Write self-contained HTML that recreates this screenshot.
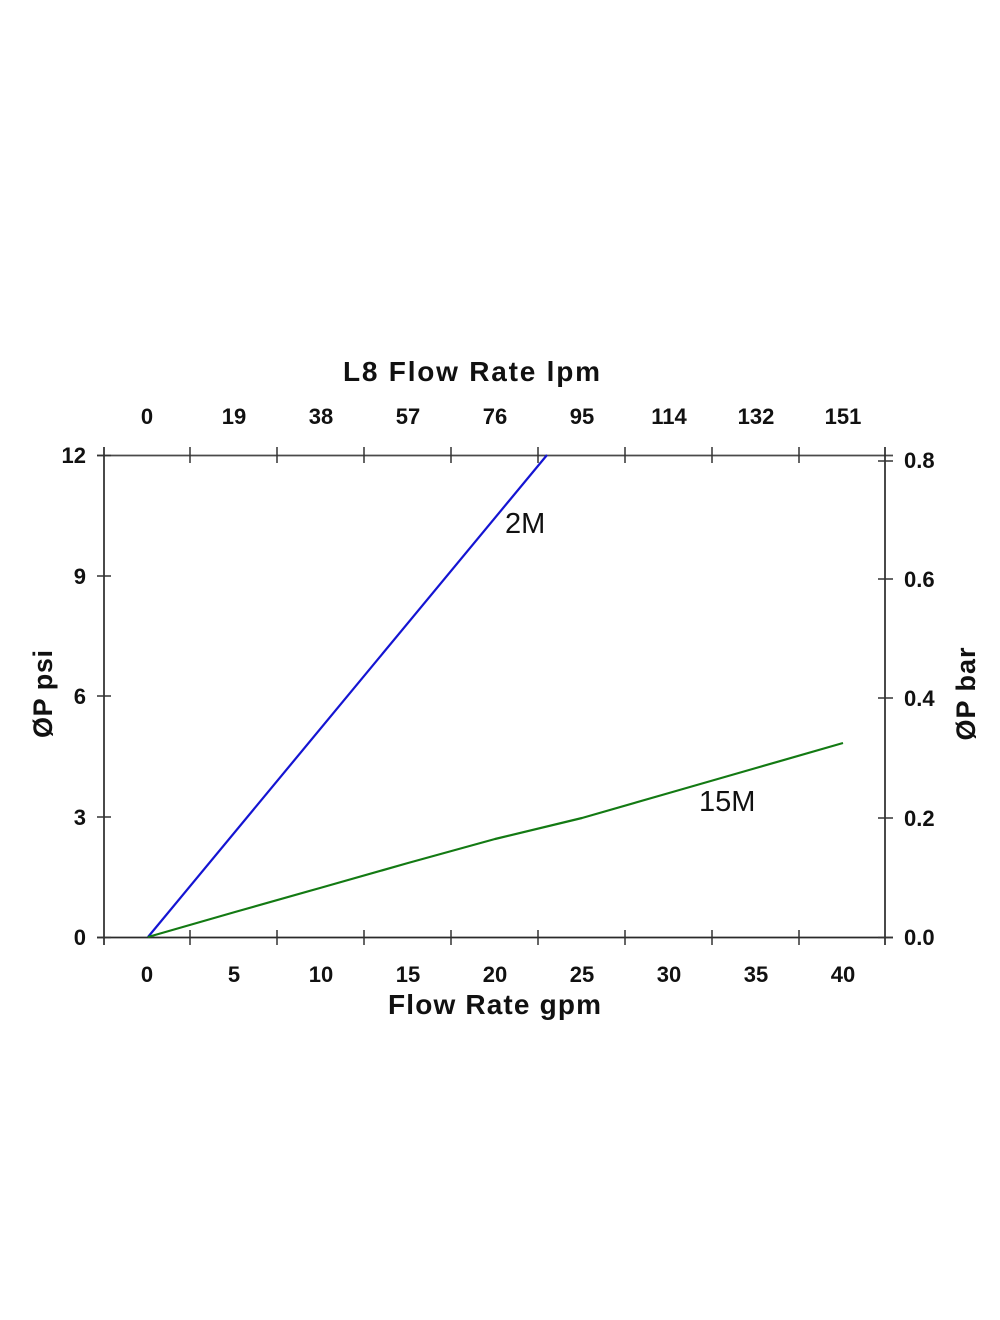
<!DOCTYPE html>
<html>
<head>
<meta charset="utf-8">
<style>
  html, body { margin: 0; padding: 0; background: #ffffff; }
  svg { display: block; }
  text { font-family: "Liberation Sans", Arial, sans-serif; fill: #111; }
  .b { font-weight: bold; }
</style>
</head>
<body>
<svg width="1000" height="1320" viewBox="0 0 1000 1320" xmlns="http://www.w3.org/2000/svg">
  <rect x="0" y="0" width="1000" height="1320" fill="#ffffff"/>

  <!-- Frame -->
  <g stroke="#2a2a2a" stroke-width="1.7" fill="none">
    <line x1="97" y1="455.5" x2="893" y2="455.5" stroke="#4a4a4a"/>
    <line x1="97" y1="937.5" x2="893" y2="937.5"/>
    <line x1="104" y1="447" x2="104" y2="945"/>
    <line x1="885" y1="447" x2="885" y2="945"/>
  </g>

  <!-- X ticks (top and bottom) -->
  <g stroke="#333" stroke-width="1.5">
    <line x1="190" y1="447" x2="190" y2="463"/>
    <line x1="277" y1="447" x2="277" y2="463"/>
    <line x1="364" y1="447" x2="364" y2="463"/>
    <line x1="451" y1="447" x2="451" y2="463"/>
    <line x1="538" y1="447" x2="538" y2="463"/>
    <line x1="625" y1="447" x2="625" y2="463"/>
    <line x1="712" y1="447" x2="712" y2="463"/>
    <line x1="799" y1="447" x2="799" y2="463"/>

    <line x1="190" y1="930" x2="190" y2="945"/>
    <line x1="277" y1="930" x2="277" y2="945"/>
    <line x1="364" y1="930" x2="364" y2="945"/>
    <line x1="451" y1="930" x2="451" y2="945"/>
    <line x1="538" y1="930" x2="538" y2="945"/>
    <line x1="625" y1="930" x2="625" y2="945"/>
    <line x1="712" y1="930" x2="712" y2="945"/>
    <line x1="799" y1="930" x2="799" y2="945"/>
  </g>

  <!-- Left Y ticks -->
  <g stroke="#333" stroke-width="1.5">
    <line x1="97" y1="455.5" x2="111" y2="455.5"/>
    <line x1="97" y1="576" x2="111" y2="576"/>
    <line x1="97" y1="696" x2="111" y2="696"/>
    <line x1="97" y1="817" x2="111" y2="817"/>
    <line x1="97" y1="937.5" x2="111" y2="937.5"/>
  </g>

  <!-- Right Y ticks -->
  <g stroke="#333" stroke-width="1.5">
    <line x1="878" y1="461" x2="893" y2="461"/>
    <line x1="878" y1="579" x2="893" y2="579"/>
    <line x1="878" y1="698" x2="893" y2="698"/>
    <line x1="878" y1="818" x2="893" y2="818"/>
    <line x1="878" y1="937.5" x2="893" y2="937.5"/>
  </g>

  <!-- Series -->
  <polyline fill="none" stroke="#1414d2" stroke-width="2.2" stroke-linejoin="round"
    points="148,937 547,455"/>
  <polyline fill="none" stroke="#137a13" stroke-width="2.2" stroke-linejoin="round"
    points="148,937 235,912 320,888 408,863 495,839 582,818 669,793 756,768 843,743"/>

  <!-- Series labels -->
  <text x="505" y="533" font-size="29">2M</text>
  <text x="699" y="811" font-size="29">15M</text>

  <!-- Top title -->
  <text class="b" x="343" y="381" font-size="28" textLength="257" lengthAdjust="spacing">L8  Flow Rate lpm</text>

  <!-- Top tick labels -->
  <g class="b" font-size="22" text-anchor="middle">
    <text x="147" y="424">0</text>
    <text x="234" y="424">19</text>
    <text x="321" y="424">38</text>
    <text x="408" y="424">57</text>
    <text x="495" y="424">76</text>
    <text x="582" y="424">95</text>
    <text x="669" y="424">114</text>
    <text x="756" y="424">132</text>
    <text x="843" y="424">151</text>
  </g>

  <!-- Bottom tick labels -->
  <g class="b" font-size="22" text-anchor="middle">
    <text x="147" y="982">0</text>
    <text x="234" y="982">5</text>
    <text x="321" y="982">10</text>
    <text x="408" y="982">15</text>
    <text x="495" y="982">20</text>
    <text x="582" y="982">25</text>
    <text x="669" y="982">30</text>
    <text x="756" y="982">35</text>
    <text x="843" y="982">40</text>
  </g>

  <!-- Bottom title -->
  <text class="b" x="388" y="1014" font-size="28" textLength="213" lengthAdjust="spacing">Flow Rate gpm</text>

  <!-- Left tick labels -->
  <g class="b" font-size="22" text-anchor="end">
    <text x="86" y="463">12</text>
    <text x="86" y="584">9</text>
    <text x="86" y="704">6</text>
    <text x="86" y="825">3</text>
    <text x="86" y="945">0</text>
  </g>

  <!-- Right tick labels -->
  <g class="b" font-size="22" text-anchor="start">
    <text x="904" y="468">0.8</text>
    <text x="904" y="587">0.6</text>
    <text x="904" y="706">0.4</text>
    <text x="904" y="826">0.2</text>
    <text x="904" y="945">0.0</text>
  </g>

  <!-- Y axis titles -->
  <text class="b" font-size="27" text-anchor="middle" transform="translate(52,694) rotate(-90)" textLength="88" lengthAdjust="spacing">ØP psi</text>
  <text class="b" font-size="27" text-anchor="middle" transform="translate(975,694) rotate(-90)" textLength="93" lengthAdjust="spacing">ØP bar</text>
</svg>
</body>
</html>
